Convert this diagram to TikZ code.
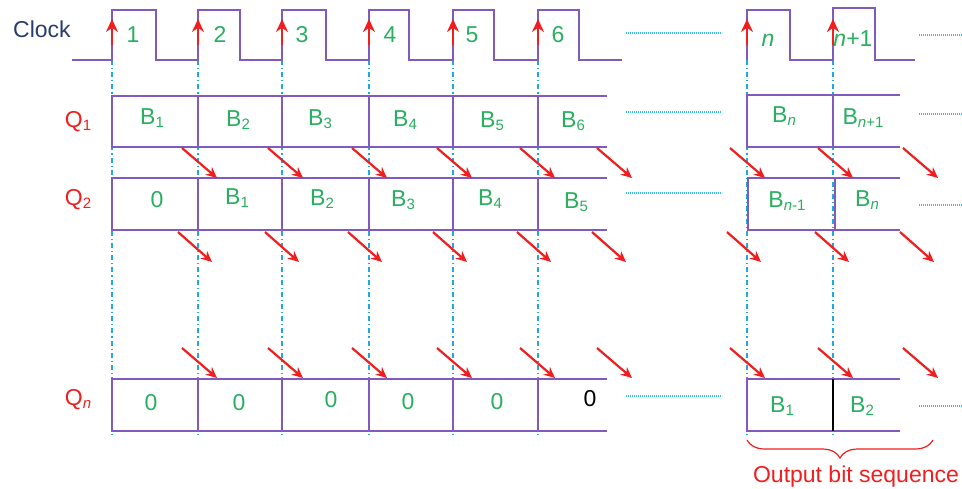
\documentclass[tikz,border=0pt]{standalone}
\usepackage{fontspec}
\setmainfont{Liberation Sans}
\usetikzlibrary{arrows.meta,decorations.pathreplacing}
\definecolor{wavec}{RGB}{130,90,190}
\definecolor{grn}{RGB}{40,175,95}
\definecolor{rd}{RGB}{240,30,30}
\definecolor{cyn}{RGB}{30,170,225}
\definecolor{dotc}{RGB}{60,185,235}
\definecolor{clk}{RGB}{40,60,110}
\newcommand\sbt[1]{\raisebox{-3pt}{\fontsize{15}{15}\selectfont #1}}
\begin{document}
\begin{tikzpicture}[x=1pt,y=-1pt,
  wv/.style={draw=wavec,line width=1.2pt},
  gridln/.style={draw=cyn,line width=1.1pt,dash pattern=on 5pt off 3pt on 1.2pt off 3pt},
  sh/.style={draw=rd,line width=2.2pt,-{Stealth[length=11pt,width=10pt]}},
  up/.style={draw=rd,line width=2.6pt,-{Stealth[length=13pt,width=12pt]}},
  dots/.style={draw=dotc,line width=1.4pt,dash pattern=on 1.1pt off 0.9pt},
  lbl/.style={text=grn,font=\fontsize{23}{23}\selectfont,inner sep=0pt,anchor=base},
  qlbl/.style={text=rd,font=\fontsize{23}{23}\selectfont,inner sep=0pt,anchor=base}]
\useasboundingbox (0,0) rectangle (962,489);

% grid lines
\foreach \x in {112,198,282,369,453,538,747,833}
  \draw[gridln] (\x,60) -- (\x,435);

% clock waveform
\draw[wv] (72,60) -- (112,60) -- (112,10) -- (156,10) -- (156,60) -- (198,60) -- (198,10) -- (240,10) -- (240,60)
  -- (282,60) -- (282,10) -- (326,10) -- (326,60) -- (369,60) -- (369,10) -- (409,10) -- (409,60)
  -- (453,60) -- (453,10) -- (494,10) -- (494,60) -- (538,60) -- (538,10) -- (579,10) -- (579,60) -- (622,60);
\draw[wv] (747,60) -- (747,10) -- (790,10) -- (790,60) -- (833,60) -- (833,8) -- (875,8) -- (875,60) -- (915,60);

% labels
\node[text=clk,font=\fontsize{23}{23}\selectfont,inner sep=0pt,anchor=base] (clock) at (42,38) {Clock};
\foreach \x/\t [count=\i] in {133/1,220/2,302/3,390/4,472/5,558/6}
  \node[lbl] (c\i) at (\x,43) {\t};
\node[lbl] (cn) at (768,47) {\textit{n}};
\node[lbl] (cn1) at (853,47) {\textit{n}+1};

% row boxes (left part)
\foreach \t/\b in {96/147,178/230,379/431} {
  \draw[wv] (607,\t) -- (112,\t) -- (112,\b) -- (607,\b);
  \foreach \x in {198,282,369,453,538}
    \draw[wv] (\x,\t) -- (\x,\b);
}
% row boxes (right part)
\draw[wv] (900,95) -- (747,95) -- (747,147) -- (900,147);
\draw[wv] (833,95) -- (833,147);
\draw[wv] (900,178) -- (748,178) -- (748,230) -- (900,230);
\draw[wv] (835,178) -- (835,230);
\draw[wv] (900,379) -- (747,379) -- (747,431) -- (900,431);
\draw[black,line width=1.2pt] (833,379) -- (833,431);

% dotted continuation lines
\foreach \ya/\yb in {33/35,112/114,193/205,396/406} {
  \draw[dots] (626,\ya) -- (722,\ya);
  \draw[dots] (919,\yb) -- (962,\yb);
}

% Q labels
\node[qlbl] (q1) at (78,128) {Q\sbt{1}};
\node[qlbl] (q2) at (78,206) {Q\sbt{2}};
\node[qlbl] (qn) at (78,405) {Q\sbt{\textit{n}}};

% Q1 contents
\node[lbl] at (152,125) {B\sbt{1}};
\node[lbl] at (238,127) {B\sbt{2}};
\node[lbl] at (320,126) {B\sbt{3}};
\node[lbl] at (405,127) {B\sbt{4}};
\node[lbl] at (492,128) {B\sbt{5}};
\node[lbl] at (573,128) {B\sbt{6}};
\node[lbl] at (784,123) {B\sbt{\textit{n}}};
\node[lbl] at (863,125) {B\sbt{\textit{n}+1}};

% Q2 contents
\node[lbl] at (157,208) {0};
\node[lbl] at (237,205) {B\sbt{1}};
\node[lbl] at (322,206) {B\sbt{2}};
\node[lbl] at (403,207) {B\sbt{3}};
\node[lbl] at (490,206) {B\sbt{4}};
\node[lbl] at (576,209) {B\sbt{5}};
\node[lbl] at (787,208) {B\sbt{\textit{n}-1}};
\node[lbl] at (867,207) {B\sbt{\textit{n}}};

% Qn contents
\node[lbl] at (151,410) {0};
\node[lbl] at (239,410) {0};
\node[lbl] at (331,407) {0};
\node[lbl] at (408,409) {0};
\node[lbl] at (497,409) {0};
\node[lbl,text=black] at (590,406) {0};
\node[lbl] at (782,412) {B\sbt{1}};
\node[lbl] at (862,412) {B\sbt{2}};

% clock edge arrows (drawn on top)
\foreach \x [count=\i] in {112,198,282,369,453,538,747,833} {
  \coordinate (eb\i) at (\x,45);
  \coordinate (et\i) at (\x,19);
  \draw[up] (eb\i) -- (et\i);
}

% shift arrows
\foreach \x [count=\i] in {182,268,352,437,520,597,730,818,903} {
  \coordinate (a\i) at (\x,148);
  \coordinate (b\i) at (\x+35,178);
  \draw[sh] (a\i) -- (b\i);
  \coordinate (n\i) at (\x,348);
  \coordinate (m\i) at (\x+35,378);
  \draw[sh] (n\i) -- (m\i);
}
\foreach \x [count=\i] in {178,265,348,433,517,592,727,815,900} {
  \coordinate (s\i) at (\x,232);
  \coordinate (t\i) at (\x+34,262);
  \draw[sh] (s\i) -- (t\i);
}

% brace and caption
\coordinate (br1) at (747,440);
\coordinate (br2) at (933,440);
\draw[rd,line width=1.2pt,decorate,decoration={brace,mirror,amplitude=18pt}] (br1) -- (br2);
\node[qlbl,anchor=center] (obs) at (856,477) {Output bit sequence};
\end{tikzpicture}
\end{document}
